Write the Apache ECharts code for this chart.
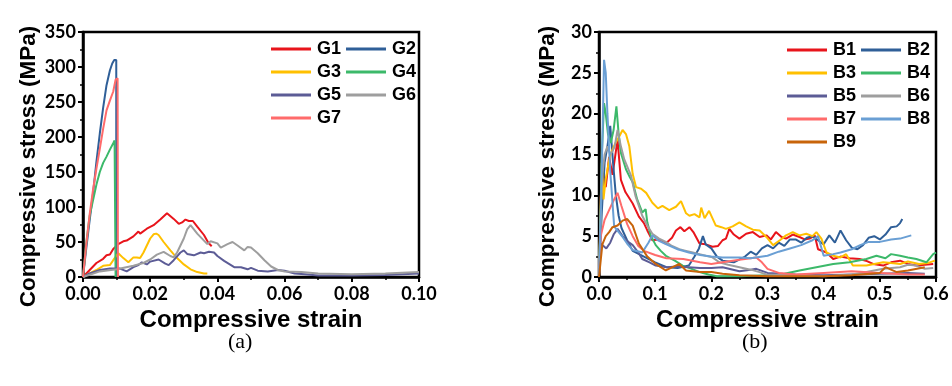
<!DOCTYPE html>
<html>
<head>
<meta charset="utf-8">
<script src="https://cdn.jsdelivr.net/npm/echarts@6/dist/echarts.min.js"></script>
<style>
html,body{margin:0;padding:0;background:#fff;}
#c{width:952px;height:386px;}
</style>
</head>
<body>
<div id="c"></div>
<script>
// ---- Panel (a): glass-like samples, [strain, stress MPa]
const namesA = ['G1','G2','G3','G4','G5','G6','G7'];
const g1 = [[0,0],[0.002,10],[0.004,20],[0.006,26],[0.007,31],[0.008,32],[0.009,40],[0.0105,47],[0.012,51],[0.013,52],[0.015,58],[0.0165,65],[0.017,62],[0.019,69],[0.021,74],[0.023,82],[0.025,91],[0.0255,92],[0.027,83],[0.0285,76],[0.0295,78],[0.0305,82],[0.0315,80],[0.0327,80],[0.034,72],[0.036,60],[0.0373,49],[0.0383,44]];
const g2 = [[0,0],[0.001,42],[0.002,82],[0.003,120],[0.004,165],[0.005,205],[0.006,242],[0.007,274],[0.008,295],[0.0087,305],[0.0093,310],[0.0099,310],[0.0099,0]];
const g3 = [[0,0],[0.002,5],[0.004,10],[0.006,16],[0.008,17],[0.009,24],[0.0105,34],[0.012,27],[0.0135,21],[0.015,28],[0.016,28],[0.017,27],[0.018,35],[0.019,45],[0.02,55],[0.021,61],[0.0218,62],[0.0225,60],[0.024,50],[0.026,38],[0.028,27],[0.03,18],[0.032,11],[0.034,7],[0.036,5],[0.037,5]];
const g4 = [[0,0],[0.001,50],[0.002,88],[0.003,110],[0.004,132],[0.005,150],[0.006,163],[0.007,172],[0.008,182],[0.009,191],[0.0094,195],[0.0097,193],[0.0097,0]];
const g5 = [[0,0],[0.002,5],[0.005,10],[0.008,12],[0.011,12],[0.013,8],[0.015,14],[0.0165,17],[0.0175,21],[0.019,18],[0.02,22],[0.0225,25],[0.0245,19],[0.0255,17],[0.027,24],[0.029,35],[0.03,38],[0.031,33],[0.033,31],[0.035,35],[0.036,34],[0.0375,36],[0.039,35],[0.04,30],[0.042,23],[0.045,14],[0.047,14],[0.049,11],[0.05,13],[0.052,9],[0.055,8],[0.058,10],[0.06,9],[0.063,5],[0.066,4],[0.07,2],[0.08,2],[0.09,3],[0.1,5]];
const g6 = [[0,0],[0.005,8],[0.01,11],[0.015,16],[0.018,20],[0.02,25],[0.022,32],[0.024,36],[0.026,30],[0.027,28],[0.028,35],[0.029,45],[0.03,55],[0.031,68],[0.032,74],[0.0325,72],[0.034,62],[0.036,52],[0.037,47],[0.038,51],[0.0385,53],[0.04,48],[0.041,42],[0.043,47],[0.0445,50],[0.046,45],[0.048,38],[0.049,43],[0.05,42],[0.052,34],[0.054,24],[0.056,15],[0.058,10],[0.06,8],[0.065,7],[0.07,5],[0.08,4],[0.09,5],[0.1,7]];
const g7 = [[0,0],[0.001,48],[0.002,90],[0.003,125],[0.004,155],[0.005,183],[0.006,212],[0.007,238],[0.008,252],[0.009,265],[0.0097,282],[0.0103,284],[0.0104,0]];
const seriesA = [g1,g2,g3,g4,g5,g6,g7];

// ---- Panel (b): B samples, [strain, stress MPa]
const namesB = ['B1','B2','B3','B4','B5','B6','B7','B8','B9'];
const b1 = [[0,0],[0.003,9.8],[0.008,12.6],[0.012,11],[0.018,14.7],[0.024,12.5],[0.033,16.8],[0.039,11.9],[0.047,10.4],[0.06,9],[0.071,7.4],[0.08,6.6],[0.086,5.7],[0.095,4.5],[0.105,4.6],[0.119,4.1],[0.13,4.8],[0.137,5.7],[0.145,6.1],[0.152,5.6],[0.161,6.1],[0.168,5.5],[0.179,4.1],[0.19,4],[0.202,3.7],[0.212,3.8],[0.22,4.5],[0.226,4.7],[0.232,5.9],[0.24,5.2],[0.25,4.7],[0.262,5.3],[0.274,5.5],[0.286,4.9],[0.298,5.1],[0.306,4.6],[0.315,5.5],[0.325,4.9],[0.333,4.7],[0.345,5.2],[0.357,4.9],[0.366,4.6],[0.375,4.7],[0.384,5.1],[0.39,3.4],[0.405,3],[0.417,2.2],[0.43,2.5],[0.446,2.3],[0.464,2.2],[0.475,2],[0.488,1.6],[0.506,1.4],[0.52,1.8],[0.536,2],[0.55,1.6],[0.565,1.4],[0.58,1.5],[0.595,1.6]];
const b2 = [[0,0],[0.005,8],[0.01,14],[0.015,16],[0.02,18.5],[0.025,14],[0.03,10],[0.035,7.5],[0.04,6],[0.05,4.5],[0.06,3.2],[0.08,2.5],[0.1,1.8],[0.12,1.2],[0.14,1.1],[0.16,1.4],[0.17,2.5],[0.178,3.5],[0.185,5],[0.19,4],[0.2,3.5],[0.21,2.5],[0.22,2],[0.24,1.8],[0.26,2.5],[0.27,3.1],[0.28,2.7],[0.29,3.5],[0.3,3.9],[0.31,3.5],[0.32,4.2],[0.33,3.8],[0.34,4.6],[0.35,4.6],[0.36,4.2],[0.37,4.8],[0.38,5],[0.39,4.5],[0.4,4],[0.41,5.1],[0.42,4.2],[0.43,5.7],[0.44,4.5],[0.45,3.6],[0.46,3.4],[0.47,3.9],[0.48,4.8],[0.49,5],[0.5,4.6],[0.51,5.2],[0.52,6.1],[0.53,6.2],[0.536,6.6],[0.54,7.1]];
const b3 = [[0,0],[0.005,14],[0.008,9.5],[0.012,12],[0.02,15],[0.03,16.5],[0.036,17.2],[0.042,18],[0.048,17.5],[0.054,16],[0.06,12.6],[0.066,11],[0.075,10.8],[0.084,10.3],[0.095,9.1],[0.105,8.4],[0.113,8.7],[0.125,8.2],[0.137,8.6],[0.146,9.3],[0.155,7.8],[0.161,7.5],[0.17,7.7],[0.179,7.3],[0.182,8.5],[0.188,7.2],[0.196,8.1],[0.208,6.3],[0.218,6.1],[0.226,5.9],[0.238,6.2],[0.25,6.7],[0.262,6.2],[0.274,5.8],[0.286,5.7],[0.298,4.9],[0.31,3.9],[0.322,4.5],[0.333,5.1],[0.345,5.5],[0.357,5.1],[0.369,5.3],[0.38,5],[0.387,5.5],[0.396,4.7],[0.405,3],[0.417,2.6],[0.43,2.4],[0.44,2.8],[0.452,1.4],[0.476,1.4],[0.49,1.6],[0.506,1.8],[0.52,1.7],[0.536,1.6],[0.55,1.9],[0.57,1.6],[0.585,1.7],[0.598,2]];
const b4 = [[0,0],[0.005,15],[0.009,21.3],[0.012,20],[0.016,17.5],[0.021,16.4],[0.026,18],[0.031,20.9],[0.035,17.5],[0.039,15.2],[0.048,13.2],[0.055,12.2],[0.06,11.6],[0.068,9.5],[0.077,7.9],[0.083,8.3],[0.086,6.7],[0.092,5.1],[0.101,3.9],[0.11,3.2],[0.119,2.6],[0.135,2],[0.149,1.4],[0.165,1],[0.179,0.6],[0.195,0.3],[0.21,0.1],[0.25,0.1],[0.3,0.2],[0.33,0.4],[0.357,0.8],[0.387,1.2],[0.417,1.6],[0.446,1.8],[0.476,2.2],[0.494,2.6],[0.51,2.3],[0.52,2.8],[0.536,2.6],[0.55,2.4],[0.565,2.2],[0.583,1.8],[0.595,2.8],[0.6,3]];
const b5 = [[0,0],[0.003,4.1],[0.008,3.8],[0.013,3.5],[0.02,4.2],[0.026,5.2],[0.033,5.9],[0.042,5],[0.05,4.4],[0.06,3.9],[0.07,3],[0.077,2.2],[0.09,1.8],[0.101,1.4],[0.12,1.2],[0.14,1.3],[0.16,1.2],[0.18,1.1],[0.2,1.1],[0.22,1.2],[0.25,0.7],[0.27,0.9],[0.28,1],[0.3,0.5],[0.35,0.3],[0.4,0.2],[0.45,0.3],[0.5,0.4],[0.55,0.5],[0.58,0.4]];
const b6 = [[0,0],[0.005,12],[0.01,15],[0.015,16],[0.02,15],[0.024,15.4],[0.028,16],[0.033,18],[0.039,16],[0.045,14.4],[0.057,12.4],[0.065,9.9],[0.077,7.5],[0.086,6.3],[0.095,5.3],[0.107,4.7],[0.119,4.3],[0.13,3.8],[0.143,3.4],[0.155,3.2],[0.167,3],[0.179,2.8],[0.19,2.6],[0.202,2.4],[0.214,1.8],[0.23,1.5],[0.25,1.2],[0.27,0.9],[0.286,0.6],[0.298,0.3],[0.357,0.2],[0.4,0.1],[0.45,0.3],[0.476,0.6],[0.506,1],[0.536,1.2],[0.55,1.5],[0.565,1.4],[0.58,1],[0.595,1.1]];
const b7 = [[0,0],[0.003,5],[0.01,7],[0.02,8.5],[0.027,9.5],[0.033,10.3],[0.04,8.7],[0.05,6.5],[0.06,5],[0.07,3.8],[0.08,3.2],[0.1,2.7],[0.12,2.3],[0.15,2.2],[0.18,1.8],[0.2,1.6],[0.22,1.8],[0.25,2.1],[0.27,2.3],[0.28,2.4],[0.29,1.8],[0.3,1],[0.32,0.5],[0.35,0.3],[0.4,0.5],[0.45,0.7],[0.5,0.5],[0.55,0.3],[0.58,0.3]];
const b8 = [[0,0],[0.004,10],[0.007,20],[0.009,26.6],[0.012,25],[0.015,20],[0.02,13],[0.027,6.2],[0.035,5.5],[0.042,4.9],[0.05,4.1],[0.06,3.3],[0.077,3],[0.088,4.2],[0.095,5.1],[0.105,4.5],[0.12,4],[0.14,3.4],[0.16,3],[0.18,2.7],[0.2,2.5],[0.22,2.4],[0.25,2.4],[0.27,2.3],[0.3,2.6],[0.32,3.1],[0.34,3.5],[0.36,3.9],[0.38,4.5],[0.39,5],[0.4,2.6],[0.417,2.8],[0.43,3],[0.45,3.4],[0.465,3.9],[0.48,4.3],[0.5,4.3],[0.52,4.6],[0.536,4.7],[0.556,5.1]];
const b9 = [[0,0],[0.003,2],[0.006,4],[0.012,5],[0.018,5.5],[0.024,6.1],[0.033,6.3],[0.042,6.9],[0.05,7.1],[0.06,6.3],[0.071,4.1],[0.086,2.5],[0.101,1.6],[0.119,0.8],[0.131,1.2],[0.143,1.6],[0.155,0.8],[0.18,0.6],[0.2,0.6],[0.22,0.4],[0.25,0.2],[0.3,0.1],[0.4,0.1],[0.45,0.2],[0.5,0.5],[0.51,1.2],[0.53,0.6],[0.55,0.8],[0.58,1.2]];
const seriesB = [b1,b2,b3,b4,b5,b6,b7,b8,b9];

// tick settings
const xTicksA = {min:0, max:0.1, interval:0.02};
const yTicksA = {min:0, max:350, interval:50};
const xTicksB = {min:0, max:0.6, interval:0.1};
const yTicksB = {min:0, max:30, interval:5};

const colA = ['#E8141B','#2F5F98','#FFC000','#3CB96A','#5C5C96','#9E9E9E','#FF6B6B'];
const colB = ['#E8141B','#2F5F98','#FFC000','#3CB96A','#5C5C96','#9E9E9E','#FF6B6B','#6A9FD4','#C8640A'];

const chart = echarts.init(document.getElementById('c'), null, {renderer:'canvas'});

function xAxis(gi, t, dec){
  return {
    type:'value', gridIndex:gi, min:t.min, max:t.max, interval:t.interval,
    name:'Compressive strain', nameLocation:'middle', nameGap:28,
    nameTextStyle:{fontFamily:'Liberation Sans', fontWeight:'bold', fontSize:24, color:'#000'},
    axisLine:{show:true, onZero:false, lineStyle:{color:'#000', width:2.5}},
    axisTick:{show:true, inside:false, length:5, lineStyle:{color:'#000', width:2}},
    minorTick:{show:true, splitNumber:2, length:3, lineStyle:{color:'#000', width:1.5}},
    splitLine:{show:false},
    axisLabel:{margin:8, fontFamily:'Lato', fontWeight:'bold', fontSize:18, color:'#000',
      formatter:v=>v.toFixed(dec)}
  };
}
function yAxis(gi, t, gap){
  return {
    type:'value', gridIndex:gi, min:t.min, max:t.max, interval:t.interval,
    name:'Compressive stress (MPa)', nameLocation:'middle', nameGap:gap, nameRotate:90,
    nameTextStyle:{fontFamily:'Liberation Sans', fontWeight:'bold', fontSize:22.5, color:'#000', padding:[0,24,0,0]},
    axisLine:{show:true, onZero:false, lineStyle:{color:'#000', width:2.5}},
    axisTick:{show:true, inside:false, length:5, lineStyle:{color:'#000', width:2}},
    minorTick:{show:true, splitNumber:2, length:3, lineStyle:{color:'#000', width:1.5}},
    splitLine:{show:false},
    axisLabel:{margin:7, fontFamily:'Lato', fontWeight:'bold', fontSize:18, color:'#000'}
  };
}

const series = [];
seriesA.forEach((d,i)=>series.push({name:namesA[i], type:'line', xAxisIndex:0, yAxisIndex:0, data:d,
  symbol:'none', showSymbol:false, lineStyle:{width:2, color:colA[i]}, itemStyle:{color:colA[i]}}));
seriesB.forEach((d,i)=>series.push({name:namesB[i], type:'line', xAxisIndex:1, yAxisIndex:1, data:d,
  symbol:'none', showSymbol:false, lineStyle:{width:2, color:colB[i]}, itemStyle:{color:colB[i]}}));

const legendCommon = {
  orient:'horizontal', icon:'rect', itemWidth:40, itemHeight:3, itemGap:5, width:150,
  textStyle:{fontFamily:'Liberation Sans', fontWeight:'bold', fontSize:18, color:'#000', padding:[0,0,0,1]},
  selectedMode:false
};

chart.setOption({
  animation:false,
  backgroundColor:'#fff',
  grid:[
    {left:83, top:32, width:336, height:245, show:true, borderColor:'#000', borderWidth:2.5, backgroundColor:'transparent'},
    {left:599, top:32, width:337, height:245, show:true, borderColor:'#000', borderWidth:2.5, backgroundColor:'transparent'}
  ],
  xAxis:[xAxis(0, xTicksA, 2), xAxis(1, xTicksB, 1)],
  yAxis:[yAxis(0, yTicksA, 42), yAxis(1, yTicksB, 40)],
  legend:[
    Object.assign({}, legendCommon, {left:266, top:35, data:namesA}),
    Object.assign({}, legendCommon, {left:782, top:36, data:namesB})
  ],
  series:series,
  graphic:[
    {type:'text', left:228, top:331, style:{text:'(a)', font:'22px "Liberation Serif"', fill:'#000'}},
    {type:'text', left:742, top:331, style:{text:'(b)', font:'22px "Liberation Serif"', fill:'#000'}}
  ]
});
</script>
</body>
</html>
